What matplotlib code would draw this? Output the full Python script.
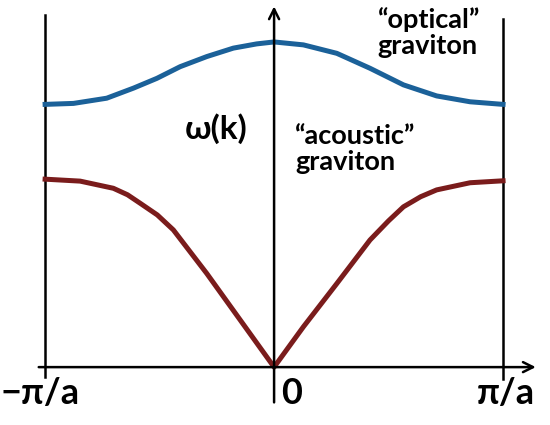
import matplotlib.pyplot as plt

# k in units of pi/a, omega normalised to the optical maximum
k_opt = [-1.0, -0.876, -0.731, -0.614, -0.512, -0.410, -0.294, -0.178, -0.076, 0.0,
         0.128, 0.274, 0.419, 0.565, 0.710, 0.856, 1.0]
w_opt = [0.808, 0.811, 0.827, 0.858, 0.888, 0.924, 0.955, 0.981, 0.994, 1.0,
         0.991, 0.965, 0.919, 0.868, 0.834, 0.816, 0.808]

k_ac = [-1.0, -0.847, -0.702, -0.640, -0.585, -0.510, -0.440, -0.294, -0.148, 0.0,
        0.128, 0.274, 0.419, 0.500, 0.565, 0.640, 0.710, 0.856, 1.0]
w_ac = [0.578, 0.572, 0.550, 0.530, 0.504, 0.468, 0.422, 0.288, 0.145, 0.0,
        0.124, 0.257, 0.391, 0.450, 0.493, 0.524, 0.545, 0.567, 0.573]

tick_pos = [-1.0, 0.0, 1.0]
tick_labels = ['\u2212\u03c0/a', '0', '\u03c0/a']

plt.rcParams['font.family'] = ['Lato', 'DejaVu Sans']

fig = plt.figure(figsize=(5.5, 4.25), dpi=100)
ax = fig.add_axes([0, 0, 1, 1])
ax.set_xlim(-1.197, 1.205)
ax.set_ylim(-0.178, 1.129)
ax.axis('off')

# zone boundaries
ax.plot([-1, -1], [-0.03, 1.083], color='black', lw=1.8)
ax.plot([1, 1], [-0.035, 1.07], color='black', lw=1.8)

# axes with arrows
ax.annotate('', xy=(1.155, 0), xytext=(-1.04, 0),
            arrowprops=dict(arrowstyle='->', color='black', lw=1.8, mutation_scale=18))
ax.annotate('', xy=(0, 1.118), xytext=(0, -0.117),
            arrowprops=dict(arrowstyle='->', color='black', lw=1.8, mutation_scale=18))

ax.plot(k_opt, w_opt, color='#1b6199', lw=3.6, solid_joinstyle='round')
ax.plot(k_ac, w_ac, color='#7a1c1c', lw=3.6, solid_joinstyle='round')

# tick labels, nudged a little off the tick
offs = [-0.02, 0.075, 0.01]
for p, lab, o in zip(tick_pos, tick_labels, offs):
    ax.text(p + o, -0.08, lab, fontsize=26, fontweight='bold', ha='center', va='center')

ax.text(-0.253, 0.735, '\u03c9(k)', fontsize=24, fontweight='bold', ha='center', va='center')
ax.text(0.452, 1.03, '\u201coptical\u201d\ngraviton', fontsize=19.5, fontweight='bold',
        ha='left', va='center', linespacing=1.1)
ax.text(0.092, 0.67, '\u201cacoustic\u201d\ngraviton', fontsize=19.5, fontweight='bold',
        ha='left', va='center', linespacing=1.1)

fig.savefig('out.png', dpi=100)
